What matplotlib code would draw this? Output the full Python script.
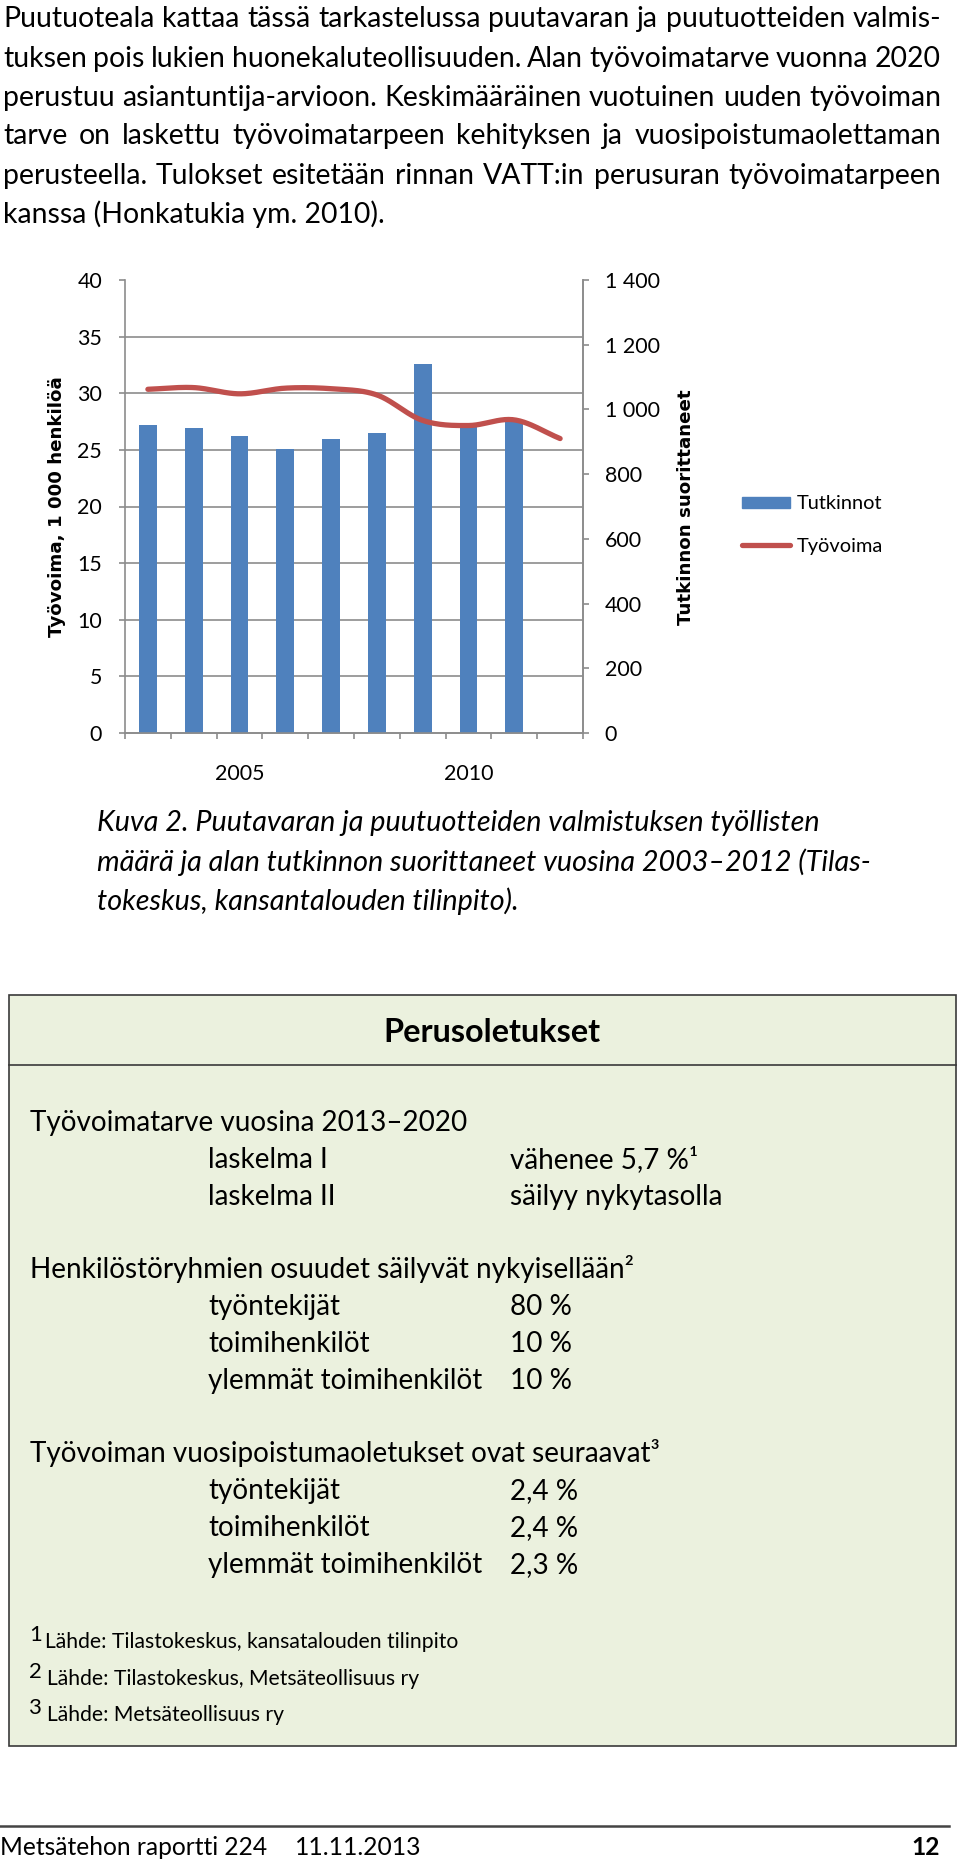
import numpy as np
import matplotlib
matplotlib.use('Agg')
import matplotlib.pyplot as plt
from matplotlib.font_manager import FontProperties
from matplotlib.textpath import TextToPath
from matplotlib.patches import Rectangle
from matplotlib.lines import Line2D

W, H, DPI = 960, 1862, 100
FONT = 'Lato'
BLUE = '#4F81BD'
RED = '#C0504D'
GRID = '#8C8C8C'

# --- data -------------------------------------------------------------
years = np.arange(2003, 2013)
tyovoima = [30.35, 30.5, 29.95, 30.45, 30.4, 29.85, 27.6, 27.15, 27.65, 26.0]
years_tutk = np.arange(2003, 2012)
tutkinnot = [951, 942, 918, 877, 910, 928, 1139, 949, 961]
left_ticks = np.arange(0, 41, 5)
right_ticks = np.arange(0, 1401, 200)
right_labels = [f'{v:,}'.replace(',', ' ') for v in right_ticks]
year_labels = [2005, 2010]

para_lines = [
    'Puutuoteala kattaa tässä tarkastelussa puutavaran ja puutuotteiden valmis-',
    'tuksen pois lukien huonekaluteollisuuden. Alan työvoimatarve vuonna 2020',
    'perustuu asiantuntija-arvioon. Keskimääräinen vuotuinen uuden työvoiman',
    'tarve on laskettu työvoimatarpeen kehityksen ja vuosipoistumaolettaman',
    'perusteella. Tulokset esitetään rinnan VATT:in perusuran työvoimatarpeen',
    'kanssa (Honkatukia ym. 2010).',
]
caption_lines = [
    'Kuva 2. Puutavaran ja puutuotteiden valmistuksen työllisten',
    'määrä ja alan tutkinnon suorittaneet vuosina 2003–2012 (Tilas-',
    'tokeskus, kansantalouden tilinpito).',
]
box_title = 'Perusoletukset'
box_rows = [
    # (y, heading, item, value)
    (1122, 'Työvoimatarve vuosina 2013–2020', None, None),
    (1159, None, 'laskelma I', 'vähenee 5,7 %¹'),
    (1196, None, 'laskelma II', 'säilyy nykytasolla'),
    (1269, 'Henkilöstöryhmien osuudet säilyvät nykyisellään²', None, None),
    (1306, None, 'työntekijät', '80 %'),
    (1343, None, 'toimihenkilöt', '10 %'),
    (1380, None, 'ylemmät toimihenkilöt', '10 %'),
    (1453, 'Työvoiman vuosipoistumaoletukset ovat seuraavat³', None, None),
    (1490, None, 'työntekijät', '2,4 %'),
    (1527, None, 'toimihenkilöt', '2,4 %'),
    (1564, None, 'ylemmät toimihenkilöt', '2,3 %'),
]
footnotes = [
    ('1', 'Lähde: Tilastokeskus, kansatalouden tilinpito'),
    ('2', 'Lähde: Tilastokeskus, Metsäteollisuus ry'),
    ('3', 'Lähde: Metsäteollisuus ry'),
]

# --- helpers ----------------------------------------------------------
ttp = TextToPath()


def text_px(s, size, family=FONT, **kw):
    fp = FontProperties(family=family, size=size, **kw)
    w, h, d = ttp.get_text_width_height_descent(s, fp, ismath=False)
    return w * DPI / 72


def fit(s, target, **kw):
    return 10 * target / text_px(s, 10, **kw)


def fx(x):
    return x / W


def fy(y):
    return 1 - y / H


fig = plt.figure(figsize=(W / DPI, H / DPI), dpi=DPI)


def txt(x, y, s, size, ha='left', family=FONT, **kw):
    # y is the visual middle of the line in pixels
    base = y + 0.34 * size * DPI / 72
    fig.text(fx(x), fy(base), s, fontsize=size, ha=ha, va='baseline',
             family=family, **kw)


def justified(x0, x1, y, s, size, **kw):
    words = s.split(' ')
    widths = [text_px(w, size, **kw) for w in words]
    gap = (x1 - x0 - sum(widths)) / (len(words) - 1)
    x = x0
    for w, wd in zip(words, widths):
        txt(x, y, w, size, **kw)
        x += wd + gap


# --- paragraph ----------------------------------------------------------
para_size = fit(para_lines[0], 934)
para_y = [17, 57, 96, 134, 174, 213]
for i, (s, y) in enumerate(zip(para_lines, para_y)):
    if i < len(para_lines) - 1:
        justified(3, 941, y, s, para_size)
    else:
        txt(3, y, s, para_size)

# --- chart --------------------------------------------------------------
ax = fig.add_axes([fx(125), fy(733), (583 - 125) / W, (733 - 280) / H])
ax2 = ax.twinx()
ax.set_zorder(ax2.get_zorder() + 1)
ax.patch.set_visible(False)

ax2.bar(years_tutk, tutkinnot, width=0.39, color=BLUE, zorder=3)


def smooth(x, y, n=24):
    x = np.asarray(x, float)
    y = np.asarray(y, float)
    px = np.r_[2 * x[0] - x[1], x, 2 * x[-1] - x[-2]]
    py = np.r_[2 * y[0] - y[1], y, 2 * y[-1] - y[-2]]
    t = np.linspace(0, 1, n, endpoint=False)
    ox, oy = [], []
    for i in range(1, len(px) - 2):
        for arr, out in ((px, ox), (py, oy)):
            p0, p1, p2, p3 = arr[i - 1:i + 3]
            out.append(0.5 * (2 * p1 + (p2 - p0) * t
                              + (2 * p0 - 5 * p1 + 4 * p2 - p3) * t ** 2
                              + (3 * p1 - p0 - 3 * p2 + p3) * t ** 3))
    return np.r_[np.concatenate(ox), x[-1]], np.r_[np.concatenate(oy), y[-1]]


sx, sy = smooth(years, tyovoima)
ax.plot(sx, sy, color=RED, lw=3.8, solid_capstyle='round')

ax.set_xlim(2002.5, 2012.5)
ax.set_ylim(0, 40)
ax2.set_ylim(0, 1400)

tick_size = fit('1 400', 55)

ax.set_yticks(left_ticks)
ax.set_yticklabels([str(v) for v in left_ticks], family=FONT, fontsize=tick_size)
ax.tick_params(axis='y', length=4.5, width=1.2, color=GRID, pad=12)
ax2.set_yticks(right_ticks)
ax2.set_yticklabels(right_labels, family=FONT, fontsize=tick_size)
ax2.tick_params(axis='y', which='major', length=4.5, width=1.2, color=GRID, pad=11)

# horizontal grid at the left axis steps, drawn behind the bars
ax2.set_yticks(left_ticks * 1400 / 40, minor=True)
ax2.tick_params(axis='y', which='minor', length=0)
ax2.yaxis.grid(True, which='minor', color=GRID, lw=1.2, zorder=0)
ax2.set_axisbelow(True)

ax.set_xticks(year_labels)
ax.set_xticklabels([str(v) for v in year_labels], family=FONT, fontsize=tick_size)
ax.set_xticks(np.arange(2002.5, 2013, 1), minor=True)
ax.tick_params(axis='x', which='major', length=0, pad=22)
ax.tick_params(axis='x', which='minor', length=4.5, width=1.2, color=GRID)

for a in (ax, ax2):
    a.spines['top'].set_visible(False)
    for side in ('left', 'right', 'bottom'):
        a.spines[side].set_color(GRID)
        a.spines[side].set_linewidth(1.2)
ax2.spines['left'].set_visible(False)

lab_size = fit('Työvoima, 1 000 henkilöä', 262, family='DejaVu Sans', weight='bold')
fig.text(fx(57), fy(507), 'Työvoima, 1 000 henkilöä', rotation=90, ha='center',
         va='center', fontsize=lab_size, weight='bold', family='DejaVu Sans')
fig.text(fx(686), fy(507), 'Tutkinnon suorittaneet', rotation=90, ha='center',
         va='center', fontsize=lab_size, weight='bold', family='DejaVu Sans')

# legend
leg_size = fit('Tutkinnot', 86)
fig.add_artist(Rectangle((fx(742), fy(508)), 48 / W, 11 / H,
                         transform=fig.transFigure, color=BLUE))
fig.add_artist(Line2D([fx(742), fx(790)], [fy(545), fy(545)],
                      transform=fig.transFigure, color=RED, lw=3.8,
                      solid_capstyle='round'))
txt(797, 502, 'Tutkinnot', leg_size)
txt(797, 545, 'Työvoima', leg_size)

# --- caption --------------------------------------------------------------
cap_size = fit(caption_lines[1], 772, style='italic')
for s, y in zip(caption_lines, [821, 861, 900]):
    txt(97, y, s, cap_size, style='italic')

# --- box --------------------------------------------------------------------
fig.add_artist(Rectangle((fx(9), fy(1746)), (956 - 9) / W, (1746 - 995) / H,
                         transform=fig.transFigure, facecolor='#EBF1DE',
                         edgecolor='#3A3A3A', lw=1.2))
fig.add_artist(Line2D([fx(9), fx(956)], [fy(1065), fy(1065)],
                      transform=fig.transFigure, color='#3A3A3A', lw=1.2))
title_size = fit(box_title, 217, weight='bold')
txt(492, 1031, box_title, title_size, ha='center', weight='bold')

box_size = fit('Henkilöstöryhmien osuudet säilyvät nykyisellään', 594)
for y, head, item, val in box_rows:
    if head:
        txt(30, y, head, box_size)
    if item:
        txt(208, y, item, box_size)
        txt(510, y, val, box_size)

fn_size = fit(footnotes[0][1], 411)
for (num, s), y, x in zip(footnotes, [1641, 1678, 1714], [45, 47, 47]):
    txt(29, y - 8, num, fn_size * 1.05)
    txt(x, y, s, fn_size)

# --- footer -------------------------------------------------------------------
fig.add_artist(Line2D([fx(0), fx(949)], [fy(1826), fy(1826)],
                      transform=fig.transFigure, color='#444444', lw=1.8))
foot_size = fit('Metsätehon raportti 224', 268)
txt(0, 1847, 'Metsätehon raportti 224', foot_size)
txt(295, 1847, '11.11.2013', foot_size)
txt(940, 1847, '12', foot_size, ha='right', weight='bold')

fig.savefig('out.png', dpi=DPI)
